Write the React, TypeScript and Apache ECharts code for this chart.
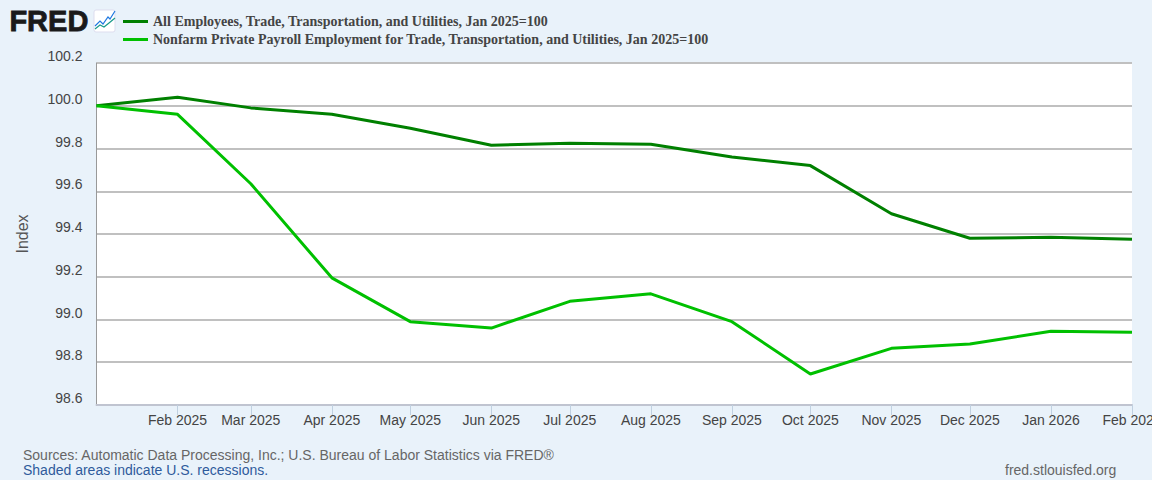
import React, { useEffect, useRef } from "react";
import * as echarts from "echarts";

const months = ["2025-01-01","2025-02-01","2025-03-01","2025-04-01","2025-05-01","2025-06-01","2025-07-01","2025-08-01","2025-09-01","2025-10-01","2025-11-01","2025-12-01","2026-01-01","2026-02-01"];
const allEmployees = [100,100.04,99.99,99.96,99.895,99.815,99.825,99.82,99.76,99.72,99.495,99.38,99.385,99.375];
const nonfarmPrivate = [100,99.96,99.635,99.195,98.99,98.96,99.085,99.12,98.99,98.745,98.865,98.885,98.945,98.94];
const nameA = "All Employees, Trade, Transportation, and Utilities, Jan 2025=100";
const nameB = "Nonfarm Private Payroll Employment for Trade, Transportation, and Utilities, Jan 2025=100";
const sources = "Sources: Automatic Data Processing, Inc.; U.S. Bureau of Labor Statistics via FRED®";
const shaded = "Shaded areas indicate U.S. recessions.";
const site = "fred.stlouisfed.org";
const monthNames = ["Jan","Feb","Mar","Apr","May","Jun","Jul","Aug","Sep","Oct","Nov","Dec"];

const toTime = (m: string) => {
  const [y, mo, d] = m.split("-").map(Number);
  return new Date(y, mo - 1, d).getTime();
};

export default function App() {
  const ref = useRef<HTMLDivElement>(null);
  useEffect(() => {
    const chart = echarts.init(ref.current!, null, { renderer: "svg" });
    const sans = "Liberation Sans, Arial, sans-serif";
    const tickValues = months.slice(1).map(toTime);
    chart.setOption({
      animation: false,
      backgroundColor: "#e9f2fa",
      grid: { left: 96.5, right: 20, top: 63, bottom: 75, backgroundColor: "#fff", show: true, borderWidth: 0, outerBoundsMode: "none" },
      legend: {
        left: 123, top: 13, orient: "vertical", itemWidth: 25, itemGap: 1, itemHeight: 3,
        icon: "rect", selectedMode: false, padding: 0,
        textStyle: { fontFamily: "Liberation Serif, Times New Roman, serif", fontWeight: "bold", fontSize: 14, lineHeight: 16, color: "#444", padding: [1, 0, 0, 0] },
        data: [
          { name: nameA, itemStyle: { color: "#008000" } },
          { name: nameB, itemStyle: { color: "#00c000" } },
        ],
      },
      xAxis: {
        type: "value",
        scale: true,
        min: toTime(months[0]),
        max: toTime(months[months.length - 1]),
        splitLine: { show: false },
        axisLine: { show: true, lineStyle: { color: "#c0c4d0", width: 2 } },
        axisTick: { show: true, length: 10, customValues: tickValues, lineStyle: { color: "#c0d0e0", width: 1 } },
        axisLabel: {
          customValues: tickValues,
          hideOverlap: false, margin: 8,
          fontFamily: sans, fontSize: 14, color: "#444",
          formatter: (v: number) => {
            const d = new Date(v);
            return monthNames[d.getMonth()] + " " + d.getFullYear();
          },
        },
      },
      yAxis: {
        type: "value", min: 98.6, max: 100.2, interval: 0.2,
        name: "Index", nameLocation: "middle", nameGap: 66, nameRotate: 90,
        nameTextStyle: { fontFamily: sans, fontSize: 16, color: "#555" },
        axisLine: { show: true, lineStyle: { color: "#999", width: 1 } },
        axisTick: { show: false },
        splitLine: { show: true, lineStyle: { color: "#c0c0c0", width: 2 } },
        axisLabel: {
          margin: 14, fontFamily: sans, fontSize: 14, color: "#444", verticalAlign: "bottom", lineHeight: 14,
          formatter: (v: number) => v.toFixed(1),
        },
      },
      series: [
        { name: nameA, type: "line", showSymbol: false, data: months.map((m, i) => [toTime(m), allEmployees[i]]), lineStyle: { color: "#008000", width: 3 }, itemStyle: { color: "#008000" } },
        { name: nameB, type: "line", showSymbol: false, data: months.map((m, i) => [toTime(m), nonfarmPrivate[i]]), lineStyle: { color: "#00c000", width: 3 }, itemStyle: { color: "#00c000" } },
      ],
      graphic: [
        { type: "text", left: 9, top: 6, style: { text: "FRED", fontFamily: sans, fontWeight: "bold", fontSize: 29, fill: "#1a1a1a", stroke: "#1a1a1a", lineWidth: 0.8 } },
        { type: "rect", shape: { x: 94, y: 10, width: 21, height: 22, r: 2 }, style: { fill: "#fff", stroke: "#dde", lineWidth: 1 } },
        { type: "polyline", shape: { points: [[95,26],[100,21],[103,24],[108,17],[110,19],[115,11]] }, style: { fill: "none", stroke: "#1f78e0", lineWidth: 1.2 } },
        { type: "polyline", shape: { points: [[95,29],[100,25],[104,27],[109,23],[115,18]] }, style: { fill: "none", stroke: "#1a9a8a", lineWidth: 1.2 } },
        { type: "text", left: 23, top: 448, style: { text: sources, fontFamily: sans, fontSize: 14, fill: "#666" } },
        { type: "text", left: 23, top: 463, style: { text: shaded, fontFamily: sans, fontSize: 14, fill: "#2f5b9c" } },
        { type: "text", left: 1005, top: 463, style: { text: site, fontFamily: sans, fontSize: 14, fill: "#666" } },
      ],
    });
    return () => chart.dispose();
  }, []);
  return <div ref={ref} style={{ position: "absolute", left: 0, top: 0, width: 1152, height: 480 }} />;
}
